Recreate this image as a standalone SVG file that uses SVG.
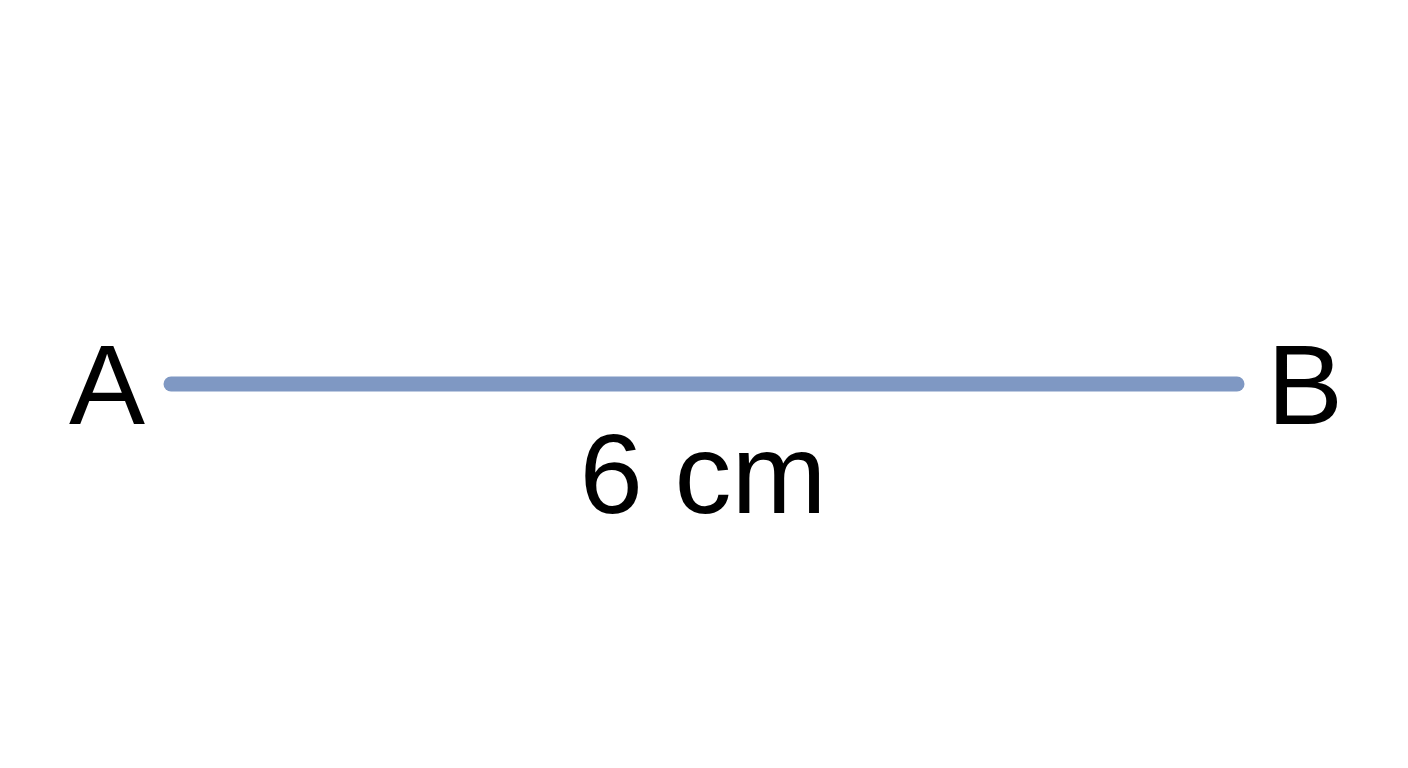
<svg xmlns="http://www.w3.org/2000/svg" width="1408" height="768" viewBox="0 0 1408 768">
<style>
.lbl{font-family:"Liberation Sans",Arial,sans-serif;font-size:114px;fill:#000}
.seg{stroke:#7f98c3;stroke-width:15;stroke-linecap:round;fill:none}
</style>
<rect width="1408" height="768" fill="#fff"/>
<g id="connectors">
<line class="seg" x1="171" y1="384" x2="1237" y2="384"/>
</g>
<g id="A"><text class="lbl" x="69" y="424">A</text></g>
<g id="B"><text class="lbl" x="1267" y="424">B</text></g>
<g id="length"><text class="lbl" x="703" y="513" text-anchor="middle">6 cm</text></g>
</svg>
